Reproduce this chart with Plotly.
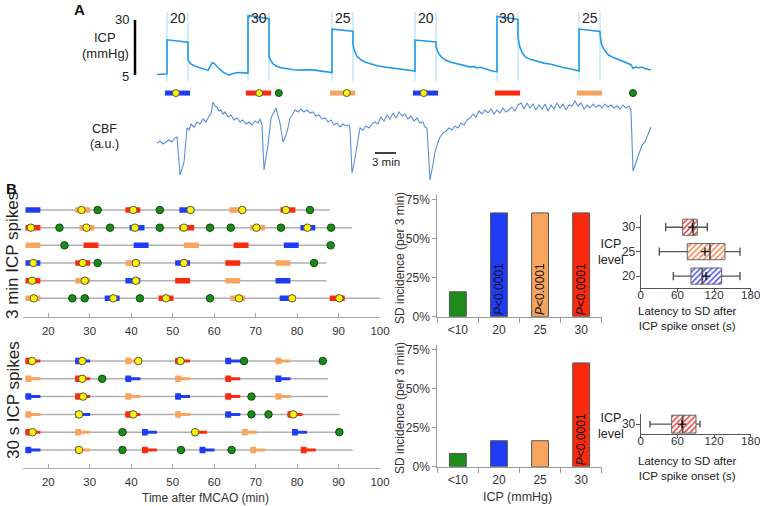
import plotly.graph_objects as go

W, H = 760, 506
FONT = "Liberation Sans, Arial, Helvetica, sans-serif"

# ---------------- Panel A data ----------------
ICP_T = [0, 0.7, 1.43, 1.43, 2.5, 3.5, 4.43, 4.43, 4.5, 4.8, 5.3, 5.9, 6.5, 7.0, 7.3, 7.6, 7.9, 8.2, 8.6, 9.0, 9.5, 10.0, 10.3, 10.8, 11.3, 12.0, 12.5, 13.0,
         13.0, 13.1, 13.2, 14.5, 16.0, 16.0, 16.2, 16.6, 17.1, 17.7, 18.5, 19.5, 20.5, 21.5, 22.5, 23.3, 24.2, 25.0,
         25.0, 26.5, 28.0, 28.0, 28.2, 28.6, 29.2, 29.8, 30.5, 31.2, 32.0, 33.0, 34.0, 35.0, 36.0, 36.86,
         36.86, 38.3, 39.86, 39.86, 40.2, 40.6, 41.2, 42.0, 43.0, 44.0, 44.8, 45.3, 45.7, 46.2, 46.8, 47.5, 48.0, 48.57,
         48.57, 50.0, 51.57, 51.57, 51.8, 52.2, 52.7, 53.4, 54.3, 55.3, 56.3, 57.2, 58.0, 58.8, 59.5, 60.29,
         60.29, 61.8, 63.29, 63.29, 63.5, 63.9, 64.5, 65.3, 66.3, 67.2, 67.7, 68.0, 68.3, 68.9, 69.3, 69.8, 70.57]
ICP_V = [5.2, 5.4, 5.6, 21.0, 20.7, 20.3, 19.9, 12.5, 11.5, 10.2, 9.2, 8.5, 8.0, 7.5, 7.1, 8.8, 10.6, 10.2, 8.6, 7.4, 6.2, 5.2, 4.9, 5.6, 6.0, 6.1, 6.0, 5.9,
         32.2, 30.8, 32.0, 31.4, 30.6, 13.5, 11.8, 10.0, 9.0, 8.3, 7.8, 7.4, 7.2, 7.4, 7.2, 6.9, 6.5, 6.1,
         25.8, 25.5, 24.9, 19.0, 16.0, 13.3, 11.8, 10.8, 10.0, 9.4, 8.9, 8.4, 8.0, 7.6, 7.2, 6.8,
         20.9, 20.5, 20.0, 17.9, 15.0, 13.2, 11.8, 10.8, 10.1, 9.3, 8.6, 8.9, 8.2, 8.5, 7.8, 7.2, 6.7, 6.5,
         31.6, 31.0, 30.3, 22.4, 18.0, 15.0, 13.0, 12.0, 11.1, 10.4, 9.9, 9.0, 8.4, 8.0, 7.3, 6.8,
         25.9, 25.4, 24.8, 23.5, 19.0, 16.4, 14.1, 12.8, 11.5, 10.3, 9.7, 8.0, 8.6, 8.3, 8.6, 7.8, 7.3]

PULSE_START = [1.43, 13.0, 25.0, 36.86, 48.57, 60.29]
PULSE_LEVEL = [20, 30, 25, 20, 30, 25]
PULSE_DUR = 3.0
A_SD_WITH = [2.7, 14.6, 27.1, 38.1]      # yellow dots
A_SD_WITHOUT = [17.4, 68.0]              # green dots

CBF_T = [0.0, 0.43, 0.86, 1.29, 1.71, 2.14, 2.57, 2.86, 3.29, 3.86,
         4.29, 4.57, 4.86, 5.29, 5.71, 6.14, 6.57, 7.0, 7.43, 7.71,
         8.0, 8.29, 8.57, 8.86, 9.14, 9.43, 9.71, 10.14, 10.57, 11.0,
         11.43, 11.86, 12.29, 12.71, 13.14, 13.57, 14.0, 14.43, 14.71, 15.0,
         15.29, 15.57, 15.86, 16.29, 16.57, 17.0, 17.29, 17.57, 18.0, 18.43,
         18.71, 19.0, 19.43, 19.71, 20.14, 20.57, 21.0, 21.43, 21.86, 22.29,
         22.71, 23.14, 23.57, 24.0, 24.43, 24.86, 25.29, 25.71, 26.14, 26.57,
         27.0, 27.43, 27.57, 27.86, 28.14, 28.43, 28.71, 29.0, 29.43, 29.86,
         30.29, 30.71, 31.14, 31.57, 32.0, 32.43, 32.86, 33.29, 33.71, 34.14,
         34.57, 35.0, 35.43, 35.86, 36.29, 36.71, 37.14, 37.57, 38.0, 38.29,
         38.57, 39.0, 39.43, 39.71, 40.14, 40.43, 40.86, 41.29, 41.71, 42.14,
         42.57, 43.0, 43.43, 43.86, 44.29, 44.71, 45.14, 45.57, 46.0, 46.43,
         46.86, 47.29, 47.71, 48.14, 48.57, 49.0, 49.43, 49.86, 50.29, 50.71,
         51.14, 51.57, 52.0, 52.43, 52.86, 53.29, 53.71, 54.14, 54.57, 55.0,
         55.43, 55.86, 56.29, 56.71, 57.14, 57.57, 58.0, 58.43, 58.86, 59.29,
         59.71, 60.14, 60.57, 61.0, 61.43, 61.86, 62.29, 62.71, 63.14, 63.57,
         64.0, 64.43, 64.86, 65.29, 65.71, 66.14, 66.57, 67.0, 67.43, 67.71,
         68.0, 68.43, 68.86, 69.29, 69.71, 70.14, 70.57]
CBF_V = [47, 49, 46, 48, 50, 48, 52, 53, 15, 28,
         62, 60, 66, 63, 68, 66, 71, 68, 74, 76,
         88, 84, 83, 79, 80, 76, 78, 73, 75, 70,
         72, 68, 70, 66, 68, 65, 69, 67, 71, 65,
         20, 33, 45, 72, 76, 82, 74, 67, 48, 55,
         62, 72, 76, 80, 78, 81, 78, 80, 77, 78,
         74, 75, 71, 72, 68, 70, 65, 67, 63, 66,
         64, 65, 62, 17, 26, 38, 52, 62, 60, 64,
         62, 66, 68, 66, 73, 69, 75, 71, 77, 72,
         78, 74, 76, 71, 74, 69, 72, 67, 68, 63,
         62, 10, 26, 38, 48, 53, 57, 59, 62, 60,
         64, 62, 67, 65, 70, 72, 76, 73, 79, 76,
         80, 77, 81, 76, 80, 77, 82, 78, 80, 83,
         79, 85, 87, 81, 87, 82, 86, 80, 85, 81,
         86, 79, 85, 81, 87, 82, 86, 80, 85, 84,
         89, 84, 87, 81, 85, 82, 86, 83, 85, 82,
         86, 83, 85, 82, 84, 81, 85, 82, 84, 80,
         19, 27, 35, 45, 48, 56, 63]

# ---------------- Panel B raster data (3 min spikes) ----------------
TOP_SPIKE_START = [[14.8, 26.8, 38.9, 51.9, 64.0, 76.3],
                   [14.8, 27.8, 39.9, 51.9, 69.0, 81.1],
                   [14.8, 28.8, 40.9, 53.0, 65.0, 77.1],
                   [14.8, 26.8, 38.9, 50.9, 63.0, 75.1],
                   [14.8, 26.8, 38.9, 50.9, 63.0, 75.1],
                   [14.8, 33.9, 46.9, 64.2, 76.1, 88.2]]
TOP_SPIKE_LEVEL = [[20, 25, 30, 20, 25, 30],
                   [30, 25, 20, 30, 25, 20],
                   [25, 30, 20, 25, 30, 20],
                   [20, 30, 25, 20, 30, 25],
                   [30, 25, 20, 30, 25, 20],
                   [25, 20, 30, 25, 20, 30]]
TOP_SD_WITH = [[28.0, 40.5, 54.3, 66.8, 77.3],
               [15.8, 29.2, 40.9, 52.7, 70.2, 82.5],
               [],
               [16.4, 28.3, 41.1, 52.7],
               [16.1, 28.8, 41.1],
               [16.5, 35.7, 48.4, 66.0, 78.8, 90.2]]
TOP_SD_WITHOUT = [[31.9, 46.9, 83.1],
                  [22.7, 34.9, 46.9, 59.0, 64.0, 76.1, 88.2],
                  [23.9, 88.1],
                  [31.9, 84.1],
                  [],
                  [25.8, 28.8, 42.1, 59.0]]
TOP_ROW_END = [87.9, 93.2, 88.3, 87.1, 87.1, 100.0]

# ---------------- Panel B raster data (30 s spikes) ----------------
BOT_SPIKE_START = [[14.8, 26.8, 38.9, 50.9, 63.0, 75.1],
                   [14.8, 26.8, 38.9, 50.9, 63.0, 75.1],
                   [14.8, 26.8, 38.9, 50.9, 63.0, 75.1],
                   [14.8, 26.8, 38.9, 50.9, 63.0, 78.0],
                   [14.8, 26.8, 42.9, 55.0, 67.0, 79.1],
                   [14.8, 26.8, 42.9, 56.8, 69.0, 81.2]]
BOT_SPIKE_LEVEL = [[30, 20, 25, 30, 20, 25],
                   [25, 30, 20, 25, 30, 20],
                   [20, 30, 25, 20, 30, 25],
                   [25, 20, 30, 25, 20, 30],
                   [30, 25, 20, 30, 25, 20],
                   [20, 25, 30, 20, 25, 30]]
BOT_SD_WITH = [[16.1, 28.2, 41.7, 51.9],
               [28.2],
               [28.4],
               [27.4, 40.5, 79.1],
               [16.2, 55.4],
               [27.4]]
BOT_SD_WITHOUT = [[67.2, 86.2],
                  [33.0],
                  [69.0],
                  [69.0, 73.1],
                  [37.9, 90.2],
                  [37.9, 52.0, 64.2]]
BOT_ROW_END = [87.3, 87.5, 87.5, 90.3, 90.5, 93.4]
TIME_TICKS = [20, 30, 40, 50, 60, 70, 80, 90, 100]

# ---------------- Bar charts ----------------
BAR_CATS = ["<10", "20", "25", "30"]
SD_INC_3MIN = [16.0, 66.7, 66.7, 66.7]
SD_INC_30S = [8.5, 16.7, 16.7, 66.7]
P_3MIN = ["", "P<0.0001", "P<0.0001", "P<0.0001"]
P_30S = ["", "", "", "P<0.0001"]
PCT_TICKS = [0, 25, 50, 75]
PCT_LABELS = ["0%", "25%", "50%", "75%"]

# ---------------- Box plots (latency, s) ----------------
BOX_LEVELS = ["20", "25", "30"]
BOX_MIN = [53.4, 30.5, 40.9]
BOX_Q1 = [82.3, 76.2, 68.7]
BOX_MED = [100.8, 113.4, 86.0]
BOX_MEAN = [106.9, 105.2, 84.5]
BOX_Q3 = [132.5, 137.9, 92.6]
BOX_MAX = [162.5, 162.5, 109.0]

BOX30S_LEVELS = ["30"]
BOX30S_MIN = [15.2]
BOX30S_Q1 = [50.7]
BOX30S_MED = [68.7]
BOX30S_MEAN = [67.5]
BOX30S_Q3 = [90.5]
BOX30S_MAX = [97.0]
LAT_TICKS = [0, 60, 120, 180]

# ---------------- styles ----------------
LEVEL_COLOR = {20: "#1f3cf5", 25: "#f7a45e", 30: "#fc2a0c"}
GREEN = "#1b8a1b"
YELLOW = "#fff200"
BAR_COLORS = ["#1d8c1d", "#1f3cf5", "#f7a45e", "#fc2a0c"]
BOX_COLORS = ["#3b3bea", "#f2793a", "#ec2c2c"]


def xd(a, b):
    return [a / W, b / W]


def yd(top, bottom):
    return [1 - bottom / H, 1 - top / H]


def ann(px, py, text, size=12, color="#222", angle=0, xanchor="center", bold=False):
    if bold:
        text = "<b>" + text + "</b>"
    return dict(x=px / W, y=1 - py / H, xref="paper", yref="paper", text=text,
                showarrow=False, textangle=angle, xanchor=xanchor, yanchor="middle",
                font=dict(size=size, color=color, family=FONT))


fig = go.Figure()
annotations = []
shapes = []

# ---------------- Panel A ----------------
vx, vy = [], []
for s in PULSE_START:
    for t in (s, s + PULSE_DUR):
        vx += [t, t, None]
        vy += [2.3, 33.6, None]
fig.add_trace(go.Scatter(x=vx, y=vy, mode="lines", line=dict(color="#a9d8f6", width=1),
                         xaxis="x", yaxis="y", hoverinfo="skip"))
fig.add_trace(go.Scatter(x=ICP_T, y=ICP_V, mode="lines", line=dict(color="#1f9bea", width=1.6),
                         xaxis="x", yaxis="y"))

EV_Y = -3.2
for lvl in (20, 25, 30):
    bx, by = [], []
    for s, l in zip(PULSE_START, PULSE_LEVEL):
        if l == lvl:
            bx += [s - 0.3, s + PULSE_DUR + 0.3, None]
            by += [EV_Y, EV_Y, None]
    fig.add_trace(go.Scatter(x=bx, y=by, mode="lines", line=dict(color=LEVEL_COLOR[lvl], width=5),
                             xaxis="x", yaxis="y"))
fig.add_trace(go.Scatter(x=A_SD_WITH, y=[EV_Y] * len(A_SD_WITH), mode="markers",
                         marker=dict(color=YELLOW, size=7, line=dict(color="#555", width=1)),
                         xaxis="x", yaxis="y"))
fig.add_trace(go.Scatter(x=A_SD_WITHOUT, y=[EV_Y] * len(A_SD_WITHOUT), mode="markers",
                         marker=dict(color=GREEN, size=7, line=dict(color="#0d4d0d", width=1)),
                         xaxis="x", yaxis="y"))

fig.add_trace(go.Scatter(x=CBF_T, y=CBF_V, mode="lines", line=dict(color="#5a8fd8", width=1.1),
                         xaxis="x2", yaxis="y2"))

for s, l in zip(PULSE_START, PULSE_LEVEL):
    annotations.append(dict(x=s + PULSE_DUR / 2, y=1 - 8 / H, xref="x", yref="paper", text=str(l),
                            showarrow=False, font=dict(size=14, color="#222", family=FONT)))

shapes.append(dict(type="line", xref="paper", yref="y", x0=135 / W, x1=135 / W, y0=5, y1=30,
                   line=dict(color="black", width=2.5)))
shapes.append(dict(type="line", xref="x2", yref="y2", x0=31.14, x1=34.14, y0=37, y1=37,
                   line=dict(color="black", width=1.5)))

annotations += [
    ann(79, 10, "A", 15, "#111", bold=True),
    ann(131, 20, "30", 13, xanchor="right"),
    ann(131, 76, "5", 13, xanchor="right"),
    ann(105, 37, "ICP", 13),
    ann(105, 53, "(mmHg)", 13),
    ann(104, 129, "CBF", 12.5),
    ann(104, 144, "(a.u.)", 12.5),
    ann(386, 162, "3 min", 11.5),
    ann(11, 188, "B", 15, "#111", bold=True),
    ann(13, 256, "3 min ICP spikes", 17, angle=-90),
    ann(13, 400, "30 s ICP spikes", 17, angle=-90),
    ann(205, 498, "Time after fMCAO (min)", 12, "#333"),
]


# ---------------- Rasters ----------------
def raster(starts, levels, sd_with, sd_without, ends, xa, ya, short):
    lx, ly = [], []
    for r, e in enumerate(ends):
        lx += [starts[r][0], e, None]
        ly += [r + 1, r + 1, None]
    fig.add_trace(go.Scatter(x=lx, y=ly, mode="lines", line=dict(color="#b0b0b0", width=1.5),
                             xaxis=xa, yaxis=ya))
    for lvl in (20, 25, 30):
        tx, ty, hx, hy = [], [], [], []
        for r in range(len(starts)):
            for s, l in zip(starts[r], levels[r]):
                if l != lvl:
                    continue
                tx += [s - 0.3, s + 3.3, None]
                ty += [r + 1, r + 1, None]
                hx += [s - 0.3, s + 1.1, None]
                hy += [r + 1, r + 1, None]
        if short:
            fig.add_trace(go.Scatter(x=tx, y=ty, mode="lines", line=dict(color=LEVEL_COLOR[lvl], width=3),
                                     xaxis=xa, yaxis=ya))
            fig.add_trace(go.Scatter(x=hx, y=hy, mode="lines", line=dict(color=LEVEL_COLOR[lvl], width=6.5),
                                     xaxis=xa, yaxis=ya))
        else:
            fig.add_trace(go.Scatter(x=tx, y=ty, mode="lines", line=dict(color=LEVEL_COLOR[lvl], width=5.5),
                                     xaxis=xa, yaxis=ya))
    yx, yy, gx, gy = [], [], [], []
    for r in range(len(starts)):
        yx += sd_with[r]
        yy += [r + 1] * len(sd_with[r])
        gx += sd_without[r]
        gy += [r + 1] * len(sd_without[r])
    fig.add_trace(go.Scatter(x=gx, y=gy, mode="markers",
                             marker=dict(color=GREEN, size=7.5, line=dict(color="#0d4d0d", width=1)),
                             xaxis=xa, yaxis=ya))
    fig.add_trace(go.Scatter(x=yx, y=yy, mode="markers",
                             marker=dict(color=YELLOW, size=7.5, line=dict(color="#555", width=1)),
                             xaxis=xa, yaxis=ya))


raster(TOP_SPIKE_START, TOP_SPIKE_LEVEL, TOP_SD_WITH, TOP_SD_WITHOUT, TOP_ROW_END, "x3", "y3", False)
raster(BOT_SPIKE_START, BOT_SPIKE_LEVEL, BOT_SD_WITH, BOT_SD_WITHOUT, BOT_ROW_END, "x4", "y4", True)

# ---------------- Bar charts ----------------
for vals, pv, xa, ya in ((SD_INC_3MIN, P_3MIN, "x5", "y5"), (SD_INC_30S, P_30S, "x6", "y6")):
    fig.add_trace(go.Bar(x=BAR_CATS, y=vals, marker=dict(color=BAR_COLORS, line=dict(color="#555", width=1)),
                         width=0.41, xaxis=xa, yaxis=ya))
    for i, p in enumerate(pv):
        if p:
            annotations.append(dict(x=i, y=17.8, xref=xa, yref=ya, text="<i>P</i>&lt;0.0001", textangle=-90,
                                    showarrow=False, font=dict(size=12, color="#111", family=FONT)))

annotations += [
    ann(400, 258, "SD incidence (per 3 min)", 12, "#333", angle=-90),
    ann(400, 408, "SD incidence (per 3 min)", 12, "#333", angle=-90),
    ann(517, 497, "ICP (mmHg)", 12.5, "#333"),
]


# ---------------- Box plots ----------------
def boxes(levels, mn, q1, med, mean, q3, mx, xa, ya, half, colors):
    pos = list(range(len(levels)))
    fig.add_trace(go.Bar(y=pos, x=[b - a for a, b in zip(q1, q3)], base=q1, orientation="h", width=2 * half,
                         marker=dict(color=colors,
                                     pattern=dict(shape="/", fgcolor="white", bgcolor=colors, size=4,
                                                  solidity=0.35, fillmode="replace"),
                                     line=dict(color="#666", width=1)),
                         xaxis=xa, yaxis=ya))
    wx, wy = [], []
    for i in pos:
        wx += [mn[i], q1[i], None, q3[i], mx[i], None, mn[i], mn[i], None, mx[i], mx[i], None]
        wy += [i, i, None, i, i, None, i - 0.17, i + 0.17, None, i - 0.17, i + 0.17, None]
    fig.add_trace(go.Scatter(x=wx, y=wy, mode="lines", line=dict(color="#555", width=1.4), xaxis=xa, yaxis=ya))
    mx_, my_ = [], []
    for i in pos:
        mx_ += [med[i], med[i], None]
        my_ += [i - half, i + half, None]
    fig.add_trace(go.Scatter(x=mx_, y=my_, mode="lines", line=dict(color="#555", width=1.8), xaxis=xa, yaxis=ya))
    fig.add_trace(go.Scatter(x=mean, y=pos, mode="markers",
                             marker=dict(symbol="cross-thin", size=6, line=dict(color="#111", width=1.3)),
                             xaxis=xa, yaxis=ya))


boxes(BOX_LEVELS, BOX_MIN, BOX_Q1, BOX_MED, BOX_MEAN, BOX_Q3, BOX_MAX, "x7", "y7", 0.33, BOX_COLORS)
boxes(BOX30S_LEVELS, BOX30S_MIN, BOX30S_Q1, BOX30S_MED, BOX30S_MEAN, BOX30S_Q3, BOX30S_MAX, "x8", "y8", 0.44,
      [BOX_COLORS[2]])

annotations += [
    ann(611, 251.5, "ICP<br>level", 12.5, "#222"),
    ann(611, 426, "ICP<br>level", 12.5, "#222"),
    ann(687, 318.5, "Latency to SD after<br>ICP spike onset (s)", 11.5, "#222"),
    ann(687, 468, "Latency to SD after<br>ICP spike onset (s)", 11.5, "#222"),
]

# ---------------- Layout ----------------
tf_small = dict(size=11.5, color="#333", family=FONT)
tf_bar = dict(size=12, color="#333", family=FONT)
raster_x = dict(range=[13.83, 100], showline=True, linecolor="#aaa", linewidth=1, ticks="inside", ticklen=4,
                tickcolor="#aaa", tickvals=TIME_TICKS, tickfont=tf_small, showgrid=False, zeroline=False,
                ticklabelstandoff=3, automargin=False)
bar_x = dict(type="category", range=[-0.5, 3.5], showline=True, linecolor="#999", ticks="outside",
             tickson="boundaries", ticklen=5, tickcolor="#999", tickfont=tf_bar, showgrid=False,
             tickangle=0, automargin=False, ticklabelstandoff=2)
bar_y = dict(range=[0, 78.2], showline=True, linecolor="#999", ticks="outside", ticklen=4, tickcolor="#999",
             tickvals=PCT_TICKS, ticktext=PCT_LABELS, tickfont=tf_bar, showgrid=False, zeroline=False,
             automargin=False)
box_x = dict(range=[0, 180], showline=True, linecolor="#555", ticks="outside", ticklen=3, tickcolor="#555",
             tickvals=LAT_TICKS, tickfont=dict(size=11.5, color="#333", family=FONT), showgrid=False,
             zeroline=False, automargin=False, tickangle=0, ticklabelstandoff=-7, ticklabeloverflow="allow")
box_y = dict(showline=True, linecolor="#555", ticks="outside", ticklen=4, tickcolor="#555",
             tickfont=tf_bar, showgrid=False, zeroline=False, automargin=False, ticklabelstandoff=-2)
hidden = dict(visible=False, automargin=False, showgrid=False, zeroline=False)

fig.update_layout(
    template="none",
    width=W, height=H, margin=dict(l=0, r=0, t=0, b=0, pad=0, autoexpand=False),
    paper_bgcolor="white", plot_bgcolor="white", showlegend=False,
    font=dict(family=FONT, color="#222"),
    xaxis=dict(domain=xd(150, 660), range=[-1, 71.857], anchor="y", **hidden),
    yaxis=dict(domain=yd(10, 100), range=[-6.36, 34.55], anchor="x", **hidden),
    xaxis2=dict(domain=xd(150, 660), range=[-1, 71.857], anchor="y2", **hidden),
    yaxis2=dict(domain=yd(100, 185), range=[5, 90], anchor="x2", **hidden),
    xaxis3=dict(domain=xd(22.7, 380), anchor="y3", **raster_x),
    yaxis3=dict(domain=yd(200, 316.7), range=[7.04, 0.434], anchor="x3", **hidden),
    xaxis4=dict(domain=xd(22.7, 380), anchor="y4", **raster_x),
    yaxis4=dict(domain=yd(350, 468.3), range=[7.03, 0.382], anchor="x4", **hidden),
    xaxis5=dict(domain=xd(437.3, 601.7), anchor="y5", **bar_x),
    yaxis5=dict(domain=yd(195, 316.7), anchor="x5", **bar_y),
    xaxis6=dict(domain=xd(437.3, 601.7), anchor="y6", **bar_x),
    yaxis6=dict(domain=yd(345, 466.7), anchor="x6", **bar_y),
    xaxis7=dict(domain=xd(640.7, 750.7), anchor="y7", **box_x),
    yaxis7=dict(domain=yd(215, 288.3), range=[-0.5, 2.5], anchor="x7", tickvals=[0, 1, 2],
                ticktext=BOX_LEVELS, **box_y),
    xaxis8=dict(domain=xd(640.7, 750.7), anchor="y8", **box_x),
    yaxis8=dict(domain=yd(414, 434.3), range=[-0.5, 0.5], anchor="x8", tickvals=[0],
                ticktext=BOX30S_LEVELS, **box_y),
    annotations=annotations, shapes=shapes,
)

fig.write_html("out.html", config={"displayModeBar": False},
               post_script="document.body.style.margin='0px';document.body.style.overflow='hidden';")
